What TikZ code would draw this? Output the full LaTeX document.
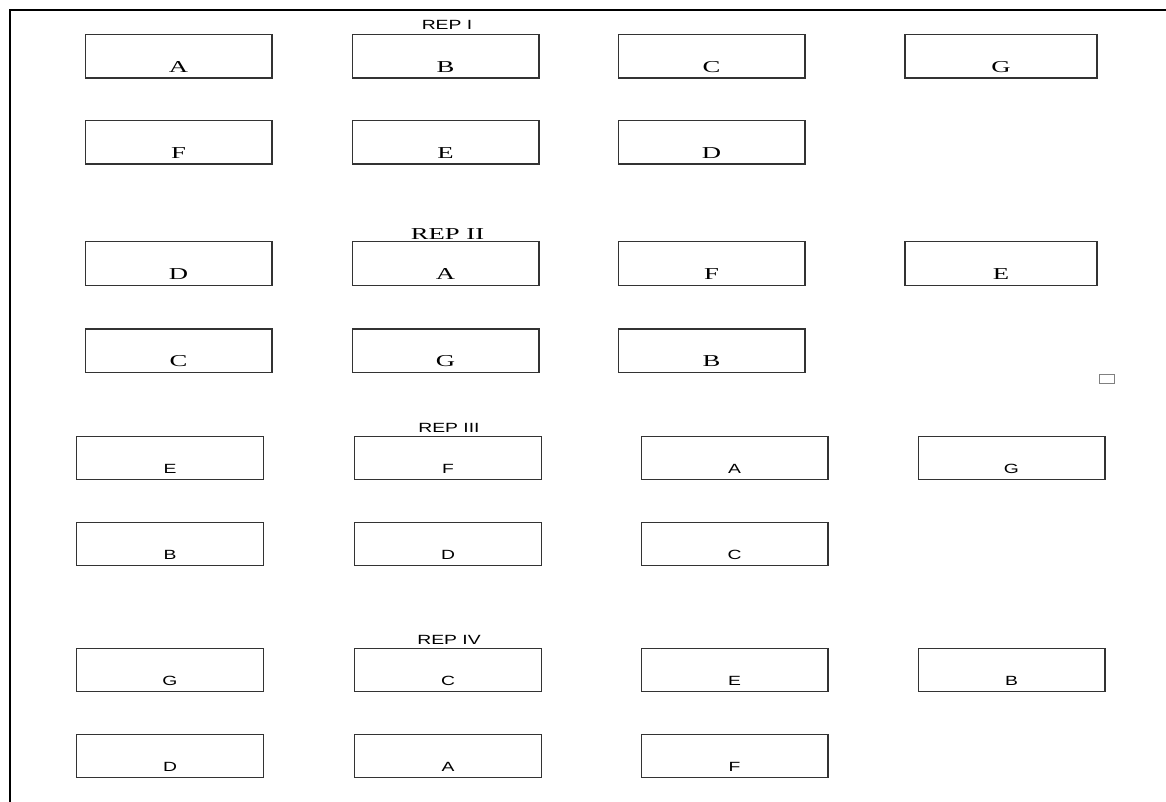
\documentclass[tikz,border=0pt]{standalone}
\usepackage{fontspec}
\setmainfont{Liberation Serif}
\newfontfamily\wideserif[FakeStretch=1.6]{Liberation Serif}
\newfontfamily\widesans[FakeStretch=1.45]{Liberation Sans}
\tikzset{
	plot/.style={rectangle, draw=black!80, line width=1pt, inner sep=0pt, outer sep=0pt, minimum width=140pt, minimum height=32.5pt},
	serifplot/.style={plot, label={[anchor=base, yshift=4.5pt, font=\wideserif\fontsize{12.5}{14}\selectfont]south:#1}},
	sansplot/.style={plot, label={[anchor=base, yshift=5pt, font=\widesans\fontsize{10}{12}\selectfont]south:#1}},
	replabel/.style={inner sep=0pt, anchor=base}
}
\begin{document}
\begin{tikzpicture}[x=0.75pt, y=-0.75pt]
	\useasboundingbox (0,0) rectangle (1166,802);
	\draw[line width=1.5pt] (10,802) -- (10,10) -- (1166,10);
	
	\node[replabel, font=\widesans\fontsize{10}{12}\selectfont] (rep1) at (447,30) {REP I};
	\node[serifplot=A] (r1a) at (178.5,56.5) {};
	\node[serifplot=B] (r1b) at (445.5,56.5) {};
	\node[serifplot=C] (r1c) at (711.5,56.5) {};
	\node[serifplot=G, minimum width=144pt] (r1g) at (1001,56.5) {};
	\node[serifplot=F] (r1f) at (178.5,142.5) {};
	\node[serifplot=E] (r1e) at (445.5,142.5) {};
	\node[serifplot=D] (r1d) at (711.5,142.5) {};
	
	\node[replabel, font=\wideserif\fontsize{12.5}{14}\selectfont] (rep2) at (447.5,239) {REP II};
	\node[serifplot=D] (r2d) at (178.5,263.5) {};
	\node[serifplot=A] (r2a) at (445.5,263.5) {};
	\node[serifplot=F] (r2f) at (711.5,263.5) {};
	\node[serifplot=E, minimum width=144pt] (r2e) at (1001,263.5) {};
	\node[serifplot=C] (r2c) at (178.5,350.5) {};
	\node[serifplot=G] (r2g) at (445.5,350.5) {};
	\node[serifplot=B] (r2b) at (711.5,350.5) {};
	\node[rectangle, draw=black!50, line width=0.6pt, minimum width=11pt, minimum height=7pt, inner sep=0pt] (mark) at (1107,379) {};
	
	\node[replabel, font=\widesans\fontsize{10}{12}\selectfont] (rep3) at (449,432) {REP III};
	\node[sansplot=E] (r3e) at (170,458) {};
	\node[sansplot=F] (r3f) at (448,458) {};
	\node[sansplot=A] (r3a) at (734.5,458) {};
	\node[sansplot=G] (r3g) at (1011.5,458) {};
	\node[sansplot=B] (r3b) at (170,544) {};
	\node[sansplot=D] (r3d) at (448,544) {};
	\node[sansplot=C] (r3c) at (734.5,544) {};
	
	\node[replabel, font=\widesans\fontsize{10}{12}\selectfont] (rep4) at (449,644) {REP IV};
	\node[sansplot=G] (r4g) at (170,670) {};
	\node[sansplot=C] (r4c) at (448,670) {};
	\node[sansplot=E] (r4e) at (734.5,670) {};
	\node[sansplot=B] (r4b) at (1011.5,670) {};
	\node[sansplot=D] (r4d) at (170,756) {};
	\node[sansplot=A] (r4a) at (448,756) {};
	\node[sansplot=F] (r4f) at (734.5,756) {};
\end{tikzpicture}
\end{document}
